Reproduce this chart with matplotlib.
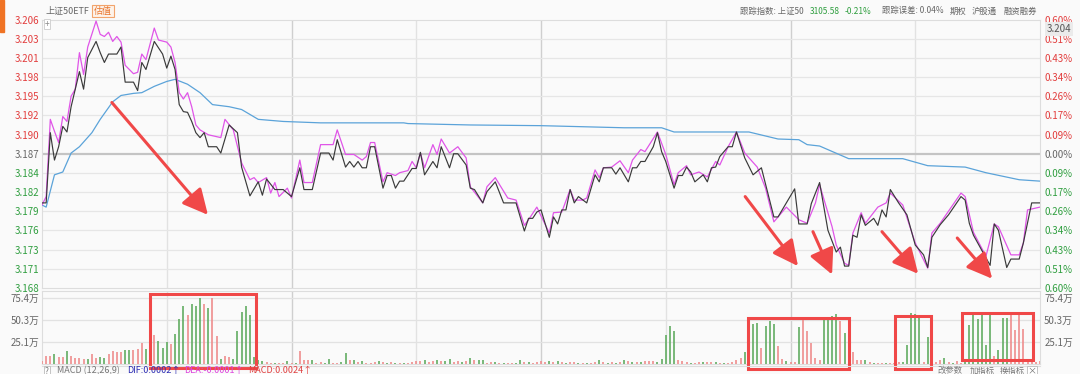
import matplotlib.pyplot as plt
import numpy as np
from matplotlib.patches import Rectangle

plt.rcParams['font.family'] = ['Noto Sans CJK SC', 'DejaVu Sans']

W, H = 1080, 374
prev_close = 3.1868
pct_max = 0.60

price_labels = ['3.206', '3.203', '3.201', '3.198', '3.195', '3.192', '3.190', '3.187',
                '3.184', '3.182', '3.179', '3.176', '3.173', '3.171', '3.168']
pct_labels = ['0.60%', '0.51%', '0.43%', '0.34%', '0.26%', '0.17%', '0.09%', '0.00%',
              '0.09%', '0.17%', '0.26%', '0.34%', '0.43%', '0.51%', '0.60%']
vol_ticks = [25.1, 50.3, 75.4]
vol_labels = ['25.1万', '50.3万', '75.4万']

# (minute, price)
price_pts = [
    (0, 3.1798), (1, 3.1798), (2, 3.1898), (3, 3.1859), (4, 3.1878), (5, 3.1907), (6, 3.1899),
    (7, 3.1935), (8, 3.1960), (9, 3.1985), (10, 3.1960), (11, 3.2005), (13, 3.2028), (14, 3.2012),
    (15, 3.1998), (16, 3.2010), (18, 3.2010), (19, 3.2020), (20, 3.1970), (22, 3.1970), (23, 3.1958),
    (24, 3.1998), (25, 3.1988), (27, 3.2028), (29, 3.2010), (30, 3.1990), (31, 3.2007), (32, 3.1988),
    (33, 3.1938), (34, 3.1928), (35, 3.1927), (36, 3.1914), (37, 3.1898), (38, 3.1891), (39, 3.1898),
    (40, 3.1878), (42, 3.1878), (43, 3.1869), (45, 3.1909), (47, 3.1898), (48, 3.1849), (50, 3.1808),
    (52, 3.1828), (53, 3.1809), (54, 3.1832), (56, 3.1817), (58, 3.1817), (60, 3.1807), (62, 3.1848),
    (63, 3.1817), (65, 3.1817), (67, 3.1869), (69, 3.1869), (70, 3.1859), (71, 3.1888), (73, 3.1849),
    (74, 3.1857), (75, 3.1849), (76, 3.1857), (77, 3.1848), (78, 3.1848), (79, 3.1878), (80, 3.1878),
    (82, 3.1819), (83, 3.1837), (84, 3.1837), (85, 3.1819), (86, 3.1829), (87, 3.1829), (89, 3.1847),
    (90, 3.1847), (91, 3.1870), (92, 3.1838), (94, 3.1857), (95, 3.1848), (96, 3.1878), (98, 3.1848),
    (99, 3.1868), (100, 3.1868), (102, 3.1852), (103, 3.1819), (104, 3.1817), (106, 3.1798),
    (107, 3.1814), (109, 3.1828), (111, 3.1798), (114, 3.1798), (116, 3.1758), (117, 3.1776),
    (118, 3.1776), (119, 3.1785), (120, 3.1788), (122, 3.1749), (123, 3.1778), (124, 3.1768),
    (125, 3.1788), (126, 3.1788), (127, 3.1817), (128, 3.1798), (129, 3.1807), (131, 3.1798),
    (133, 3.1838), (134, 3.1828), (135, 3.1848), (137, 3.1848), (138, 3.1839), (139, 3.1848),
    (141, 3.1828), (142, 3.1848), (143, 3.1848), (144, 3.1857), (145, 3.1857), (147, 3.1878),
    (148, 3.1898), (149, 3.1871), (150, 3.1857), (152, 3.1819), (153, 3.1837), (154, 3.1837),
    (155, 3.1849), (156, 3.1842), (157, 3.1828), (159, 3.1838), (160, 3.1828), (161, 3.1848),
    (162, 3.1849), (163, 3.1864), (165, 3.1878), (166, 3.1878), (167, 3.1899), (169, 3.1862),
    (171, 3.1838), (173, 3.1848), (176, 3.1778), (177, 3.1778), (181, 3.1818), (182, 3.1768),
    (184, 3.1768), (185, 3.1797), (187, 3.1827), (189, 3.1759), (191, 3.1728), (192, 3.1735),
    (193, 3.1708), (194, 3.1708), (195, 3.1752), (196, 3.1749), (197, 3.1781), (198, 3.1766),
    (200, 3.1776), (201, 3.1766), (202, 3.1788), (203, 3.1778), (204, 3.1817), (206, 3.1798),
    (208, 3.1781), (210, 3.1738), (212, 3.1724), (213, 3.1706), (214, 3.1749), (216, 3.1767),
    (218, 3.1781), (221, 3.1807), (222, 3.1802), (223, 3.1769), (224, 3.1752), (228, 3.1709),
    (229, 3.1768), (230, 3.1759), (232, 3.1706), (233, 3.1718), (235, 3.1718), (236, 3.1741),
    (238, 3.1798), (240, 3.1798),
]

# estimated value line (估值)
iopv_pts = [
    (0, 3.1795), (1, 3.1807), (2, 3.1917), (3, 3.1900), (4, 3.1884), (5, 3.1921), (6, 3.1914),
    (7, 3.1950), (8, 3.1960), (9, 3.2012), (10, 3.1981), (11, 3.2020), (13, 3.2057), (14, 3.2038),
    (15, 3.2035), (16, 3.2041), (17, 3.2028), (18, 3.2035), (19, 3.2027), (20, 3.1994), (22, 3.1982),
    (23, 3.1984), (24, 3.2010), (25, 3.2002), (27, 3.2047), (28, 3.2030), (30, 3.2027), (31, 3.2020),
    (32, 3.1998), (33, 3.1955), (34, 3.1946), (35, 3.1955), (36, 3.1935), (37, 3.1909), (38, 3.1902),
    (40, 3.1895), (43, 3.1891), (44, 3.1917), (46, 3.1902), (48, 3.1855), (50, 3.1831), (51, 3.1834),
    (52, 3.1827), (54, 3.1834), (55, 3.1812), (56, 3.1827), (57, 3.1807), (59, 3.1819), (60, 3.1805),
    (62, 3.1859), (63, 3.1827), (65, 3.1827), (67, 3.1881), (70, 3.1881), (71, 3.1902), (73, 3.1867),
    (75, 3.1867), (77, 3.1859), (78, 3.1864), (79, 3.1884), (80, 3.1884), (82, 3.1828), (83, 3.1841),
    (85, 3.1837), (86, 3.1841), (88, 3.1844), (89, 3.1857), (90, 3.1848), (91, 3.1869), (92, 3.1848),
    (94, 3.1881), (95, 3.1867), (96, 3.1889), (98, 3.1869), (100, 3.1878), (102, 3.1862),
    (103, 3.1821), (106, 3.1798), (107, 3.1821), (109, 3.1834), (112, 3.1805), (114, 3.1802),
    (116, 3.1766), (117, 3.1774), (119, 3.1792), (122, 3.1755), (123, 3.1784), (125, 3.1785),
    (127, 3.1817), (128, 3.1802), (130, 3.1802), (131, 3.1805), (133, 3.1845), (134, 3.1834),
    (135, 3.1848), (137, 3.1849), (139, 3.1858), (141, 3.1841), (142, 3.1859), (144, 3.1874),
    (145, 3.1871), (148, 3.1899), (150, 3.1867), (152, 3.1824), (153, 3.1841), (155, 3.1851),
    (156, 3.1838), (158, 3.1842), (160, 3.1835), (162, 3.1857), (163, 3.1852), (165, 3.1878),
    (167, 3.1899), (169, 3.1869), (172, 3.1849), (174, 3.1819), (176, 3.1771), (179, 3.1792),
    (182, 3.1774), (184, 3.1769), (186, 3.1798), (187, 3.1824), (190, 3.1764), (191, 3.1738),
    (193, 3.1712), (194, 3.1709), (195, 3.1755), (197, 3.1784), (198, 3.1769), (201, 3.1792),
    (203, 3.1798), (204, 3.1812), (207, 3.1795), (210, 3.1741), (213, 3.1705), (214, 3.1755),
    (216, 3.1769), (221, 3.1812), (222, 3.1807), (224, 3.1756), (227, 3.1722), (229, 3.1768),
    (230, 3.1764), (233, 3.1724), (235, 3.1724), (236, 3.1741), (237, 3.1788), (240, 3.1792),
]

# average price line
avg_pts = [
    (0, 3.1795), (1, 3.1792), (3, 3.1838), (5, 3.1842), (7, 3.1869), (9, 3.1878), (12, 3.1898),
    (14, 3.1917), (17, 3.1942), (19, 3.1951), (22, 3.1954), (24, 3.1955), (27, 3.1964), (30, 3.1971),
    (32, 3.1974), (35, 3.1967), (38, 3.1955), (41, 3.1938), (45, 3.1935), (48, 3.1931), (52, 3.1917),
    (58, 3.1914), (67, 3.1912), (87, 3.1912), (88, 3.1911), (103, 3.1909), (120, 3.1908),
    (140, 3.1905), (149, 3.1905), (152, 3.1899), (170, 3.1899), (177, 3.1889), (182, 3.1888),
    (184, 3.1881), (187, 3.1879), (194, 3.1861), (207, 3.1861), (213, 3.1851), (222, 3.1849),
    (227, 3.1841), (235, 3.1831), (240, 3.1829),
]

# per-minute volume (万) and up/down colour flag
volume = [
    3.8, 8.7, 9.4, 10.9, 8.3, 8.3, 14.7, 9.4, 6.8, 6.4,
    5.3, 5.7, 11.3, 7.2, 7.5, 7.2, 11.3, 15.0, 14.0, 13.2,
    15.5, 15.8, 16.2, 17.0, 24.5, 17.7, 6.0, 32.8, 26.4, 18.0,
    25.3, 23.4, 34.0, 51.6, 66.7, 56.5, 69.0, 66.7, 75.4, 68.6,
    64.0, 75.8, 32.0, 5.7, 9.4, 8.3, 5.7, 37.7, 59.2, 66.7,
    56.5, 8.0, 4.9, 3.4, 2.0, 1.5, 1.5, 1.5, 1.5, 3.8,
    1.5, 1.5, 15.0, 5.0, 4.5, 4.0, 1.5, 2.6, 1.5, 5.7,
    1.5, 1.5, 2.0, 12.3, 4.5, 4.5, 2.0, 3.8, 1.5, 1.5,
    2.6, 3.8, 2.6, 1.5, 1.9, 1.5, 1.5, 1.5, 1.5, 1.9,
    3.8, 3.0, 4.5, 2.6, 3.8, 4.5, 3.8, 3.4, 5.7, 2.6,
    3.8, 2.6, 3.8, 6.8, 4.5, 4.5, 4.5, 1.5, 2.6, 2.6,
    1.5, 1.5, 1.5, 1.5, 1.5, 4.5, 2.6, 2.6, 1.5, 1.9,
    3.8, 2.6, 3.0, 1.9, 3.4, 2.6, 1.5, 2.6, 1.9, 1.5,
    1.5, 1.5, 1.5, 1.9, 4.5, 1.9, 1.5, 2.6, 1.5, 1.9,
    4.2, 3.0, 2.6, 2.6, 1.9, 3.4, 3.4, 3.4, 1.9, 5.7,
    33.5, 43.5, 37.4, 4.5, 3.0, 2.6, 1.5, 1.5, 1.9, 1.9,
    2.6, 1.9, 1.9, 1.5, 1.5, 1.5, 2.6, 4.3, 6.3, 13.8,
    2.0, 45.5, 47.0, 18.3, 43.3, 49.2, 45.5, 20.0, 5.2, 3.4,
    2.2, 2.2, 41.8, 53.0, 38.0, 23.9, 6.3, 4.5, 53.0, 53.0,
    54.5, 57.4, 49.2, 35.8, 3.0, 13.4, 4.0, 4.5, 4.0, 2.2,
    1.5, 1.5, 1.5, 1.5, 1.5, 1.5, 2.2, 2.2, 22.0, 58.0,
    57.4, 53.0, 2.2, 31.3, 1.5, 2.6, 4.5, 6.7, 2.2, 1.5,
    3.4, 1.5, 2.2, 44.4, 59.3, 51.0, 59.3, 22.0, 59.3, 9.7,
    15.7, 53.0, 53.0, 59.3, 38.8, 55.6, 39.5, 5.0, 3.0, 2.0, 3.0,
]
vol_dir = ("rrrgrrgrrr" "rgrrggrrrr" "ggrrrggrgg" "grgggrgggr" "grrgrrgggg"
           "ggggrrgrrg" "rgrrrgrrgg" "rrggrgrgrr" "rgrgrgrgrr" "rrgrrgrggr"
           "rgrgrggrrg" "rgrrggrgrr" "rrgrgrgrrg" "rgrrgrgrgr" "grgrgrrrgg"
           "gggrrrgrrg" "rrgrgrrrrg" "gggrgggrrg" "rrgrrrrrgg" "ggrggrrrgr"
           "grrgrrrggg" "ggrgrrrgrg" "rrgggggggr" "gggrrrrrrrr")

# red annotations: arrows (minute, price) and boxes (minute range, volume range)
arrows = [((16.8, 3.1941), (39.9, 3.1781)), ((169.1, 3.1807), (181.8, 3.1708)),
          ((185.4, 3.1757), (190.0, 3.1696)), ((202.0, 3.1757), (210.7, 3.1697)),
          ((220.1, 3.1748), (228.5, 3.1690))]
boxes = [(26.0, 51.5, -4.6, 80.0), (169.8, 194.1, -5.7, 52.5),
         (205.1, 213.8, -5.7, 54.8), (221.3, 238.3, 4.6, 58.3)]

RED_TXT = '#e23c3c'
GREEN_TXT = '#2f9e3f'
GRAY_TXT = '#666666'
ANNO = '#f04848'


def fx(px):
    return px / W


def fy(py):
    return 1 - py / H


fig = plt.figure(figsize=(W / 100, H / 100), dpi=100)
fig.patch.set_facecolor('#fafafa')
renderer = fig.canvas.get_renderer()


def text_row(items, y, size):
    # items: (left x in px, text, colour); each text is pushed right of the previous one
    last = 0
    for x, s, c in items:
        t = fig.text(fx(max(x, last + 4)), fy(y), s, fontsize=size, color=c, va='center')
        bb = t.get_window_extent(renderer)
        last = bb.x1


L, R = 42, 1040
top_px, bot_px = 19.5, 288
ax = fig.add_axes([fx(L), fy(bot_px), (R - L) / W, (bot_px - top_px) / H])
vtop, vbase = 291, 364
axv = fig.add_axes([fx(L), fy(vbase), (R - L) / W, (vbase - vtop) / H])

lo = prev_close * (1 - pct_max / 100)
hi = prev_close * (1 + pct_max / 100)
ticks = np.linspace(hi, lo, 15)

for a in (ax, axv):
    a.set_facecolor('#fafafa')
    a.set_xlim(0, 240)
    for s in a.spines.values():
        s.set_color('#dddddd')
        s.set_linewidth(0.8)
    a.set_xticks([])
    for m in range(30, 240, 30):
        a.axvline(m, color='#cfcfcf' if m % 60 == 0 else '#e2e2e2', lw=1.0, zorder=0)

ax.set_ylim(lo, hi)
for i, t in enumerate(ticks):
    if i == 7:
        ax.axhline(t, color='#c4c4c4', lw=1.6, zorder=0)
    elif 0 < i < 14:
        ax.axhline(t, color='#e6e6e6', lw=0.9, zorder=0)
ax.set_yticks(ticks)
ax.set_yticklabels(price_labels, fontsize=7)
ax.tick_params(axis='y', length=0, pad=2)
ax2 = ax.twinx()
ax2.set_ylim(lo, hi)
ax2.set_yticks(ticks)
ax2.set_yticklabels(pct_labels, fontsize=7)
ax2.tick_params(axis='y', length=0, pad=3)
for s in ax2.spines.values():
    s.set_visible(False)
for i, (l1, l2) in enumerate(zip(ax.get_yticklabels(), ax2.get_yticklabels())):
    c = RED_TXT if i < 7 else (GRAY_TXT if i == 7 else GREEN_TXT)
    l1.set_color(c)
    l2.set_color(c)

pm, pv = zip(*price_pts)
im, iv = zip(*iopv_pts)
am, av = zip(*avg_pts)
ax.plot(am, av, color='#5ba3d9', lw=0.9, zorder=3)
ax.plot(im, iv, color='#e055e8', lw=0.9, zorder=4)
ax.plot(pm, pv, color='#3a3a3a', lw=0.85, zorder=5)

for (x0, y0), (x1, y1) in arrows:
    ax.annotate('', xy=(x1, y1), xytext=(x0, y0),
                arrowprops=dict(arrowstyle='-|>,head_length=1.1,head_width=0.55',
                                color=ANNO, lw=2.2, mutation_scale=14,
                                shrinkA=0, shrinkB=0), zorder=6)

# volume panel
axv.set_ylim(0, 75.4 * (vbase - vtop) / 66)
for t in vol_ticks:
    axv.axhline(t, color='#e2e2e2', lw=0.9, zorder=0)
bar_cols = ['#ef8d8d' if c == 'r' else '#62ad62' for c in vol_dir]
axv.vlines(np.arange(len(volume)), 0, volume, colors=bar_cols, lw=1.2, zorder=3)
axv.set_yticks(vol_ticks)
axv.set_yticklabels(vol_labels, fontsize=7, color=GRAY_TXT)
axv.tick_params(axis='y', length=0, pad=2)
axv2 = axv.twinx()
axv2.set_ylim(axv.get_ylim())
axv2.set_yticks(vol_ticks)
axv2.set_yticklabels(vol_labels, fontsize=7, color=GRAY_TXT)
axv2.tick_params(axis='y', length=0, pad=3)
for s in axv2.spines.values():
    s.set_visible(False)

for x0, x1, y0, y1 in boxes:
    axv.add_patch(Rectangle((x0, y0), x1 - x0, y1 - y0, fill=False, ec=ANNO,
                            lw=2.2, clip_on=False, zorder=7))

# header
fig.patches.append(Rectangle((0, fy(32)), fx(4), 32 / H, transform=fig.transFigure,
                             color='#f07324', zorder=0))
fig.text(fx(45), fy(11), '上证50ETF', fontsize=6.5, color=GRAY_TXT, va='center')
fig.text(fx(94), fy(11), '估值', fontsize=6.5, color='#e8742c', va='center',
         bbox=dict(boxstyle='square,pad=0.2', fc='#fdf3ea', ec='#f2a46c', lw=0.8))
fig.text(fx(47), fy(24), '+', fontsize=6, color='#888888', va='center', ha='center',
         bbox=dict(boxstyle='square,pad=0.05', fc='white', ec='#cccccc', lw=0.6))
text_row([(740, '跟踪指数: 上证50', GRAY_TXT), (810, '3105.58', GREEN_TXT), (845, '-0.21%', GREEN_TXT),
          (882, '跟踪误差: 0.04%', GRAY_TXT), (950, '期权', GRAY_TXT), (972, '沪股通', GRAY_TXT),
          (1004, '融资融券', GRAY_TXT)], 11, 6)
fig.text(fx(1059), fy(29), '3.204', fontsize=7, color='#555555', va='center', ha='center',
         bbox=dict(boxstyle='square,pad=0.2', fc='#ebebeb', ec='none'))

# bottom indicator strip (cut off by the image edge)
fig.add_artist(plt.Line2D([fx(L), fx(R)], [fy(366), fy(366)], color='#dddddd', lw=0.8))
fig.text(fx(47), fy(371), '?', fontsize=6, color='#777777', va='center', ha='center',
         bbox=dict(boxstyle='square,pad=0.1', fc='white', ec='#bbbbbb', lw=0.6))
text_row([(57, 'MACD (12,26,9)', '#777777'), (127, 'DIF:0.0002↑', '#2d2db4'),
          (176, 'DEA:-0.0001↑', '#dd44dd'), (228, 'MACD:0.0024↑', '#e04040')], 371, 6.5)
text_row([(938, '改参数', '#777777'), (970, '加指标', '#777777'), (1000, '换指标', '#777777')], 371, 6)
fig.text(fx(1032), fy(371), '×', fontsize=6.5, color='#777777', va='center', ha='center',
         bbox=dict(boxstyle='square,pad=0.1', fc='white', ec='#bbbbbb', lw=0.6))

fig.savefig('out.png', dpi=100, facecolor=fig.get_facecolor())
